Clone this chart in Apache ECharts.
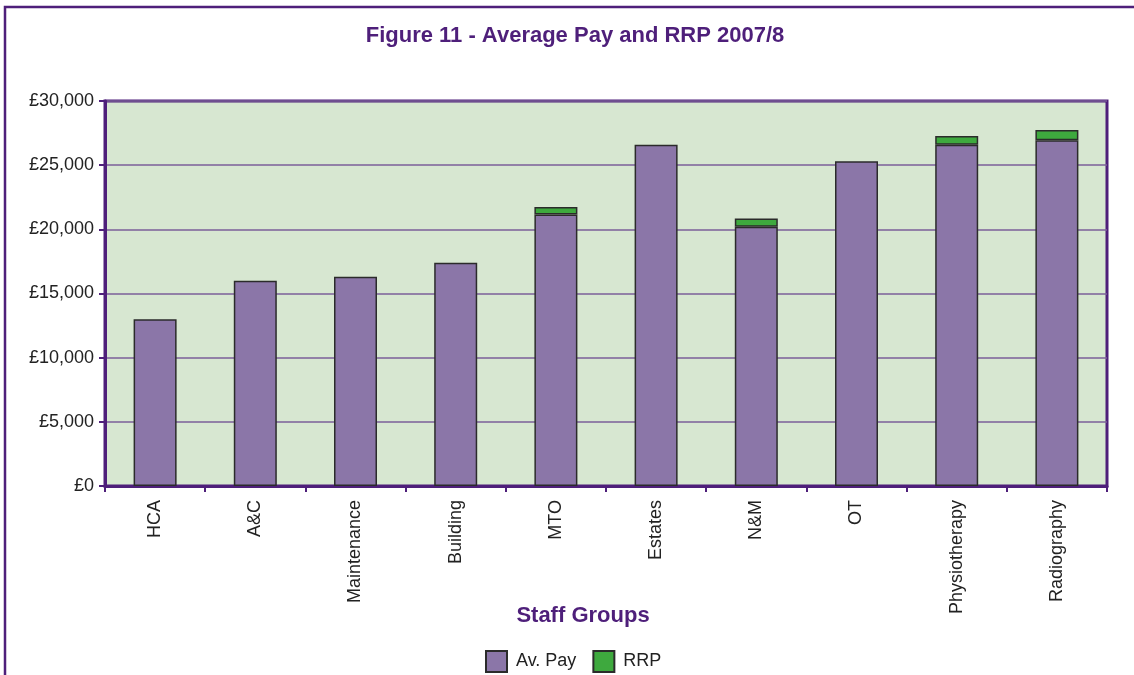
<!DOCTYPE html>
<html>
<head>
<meta charset="utf-8">
<script src="https://cdn.jsdelivr.net/npm/echarts@6/dist/echarts.min.js"></script>
<style>
  html, body { margin: 0; padding: 0; background: #ffffff; }
  #chart { width: 1134px; height: 675px; }
</style>
</head>
<body>
<div id="chart"></div>
<script>
// Staff groups and average pay with the recruitment & retention premium on top
const categories = ['HCA', 'A&C', 'Maintenance', 'Building', 'MTO', 'Estates', 'N&M', 'OT', 'Physiotherapy', 'Radiography'];
const avPay = [13000, 16000, 16300, 17400, 21150, 26600, 20200, 25300, 26600, 26950];
const rrp = [0, 0, 0, 0, 600, 0, 650, 0, 680, 800];
const yTicks = [0, 5000, 10000, 15000, 20000, 25000, 30000];

const purple = '#4e1f7a';
const font = '"Liberation Sans", Arial, sans-serif';

const chart = echarts.init(document.getElementById('chart'), null, { renderer: 'canvas' });

chart.setOption({
  animation: false,
  backgroundColor: '#ffffff',
  title: [
    {
      text: 'Figure 11 - Average Pay and RRP 2007/8',
      left: 570, top: 20, textAlign: 'center',
      textStyle: { color: purple, fontFamily: font, fontWeight: 'bold', fontSize: 22 }
    },
    {
      text: 'Staff Groups',
      left: 578, top: 600, textAlign: 'center',
      textStyle: { color: purple, fontFamily: font, fontWeight: 'bold', fontSize: 22 }
    }
  ],
  legend: {
    data: ['Av. Pay', 'RRP'],
    left: 480, top: 645,
    itemWidth: 21, itemHeight: 21, itemGap: 16,
    icon: 'rect',
    textStyle: { color: '#222', fontFamily: font, fontSize: 18, padding: [3, 0, 0, 4] }
  },
  graphic: [
    {
      type: 'rect', z: -10,
      shape: { x: 5, y: 7, width: 1200, height: 720 },
      style: { fill: 'none', stroke: purple, lineWidth: 2.5 }
    }
  ],
  grid: {
    left: 105, top: 101, right: 27, bottom: 189,
    show: true, backgroundColor: '#d7e7d1',
    borderColor: purple, borderWidth: 3
  },
  xAxis: {
    type: 'category',
    data: categories,
    boundaryGap: true,
    axisLine: { lineStyle: { color: purple, width: 3 } },
    axisTick: { show: true, alignWithLabel: false, length: 6, lineStyle: { color: purple, width: 2 } },
    axisLabel: { rotate: 90, margin: 14, color: '#222', fontFamily: font, fontSize: 18 }
  },
  yAxis: {
    type: 'value',
    min: yTicks[0], max: yTicks[yTicks.length - 1], interval: yTicks[1] - yTicks[0],
    axisLine: { show: true, lineStyle: { color: purple, width: 3 } },
    axisTick: { show: true, length: 6, lineStyle: { color: purple, width: 2 } },
    axisLabel: {
      margin: 11, color: '#222', fontFamily: font, fontSize: 18,
      formatter: v => '£' + v.toLocaleString('en-GB')
    },
    splitLine: { lineStyle: { color: '#7b5f98', width: 1.5 } }
  },
  series: [
    {
      name: 'Av. Pay', type: 'bar', stack: 'pay', data: avPay,
      barWidth: 43,
      itemStyle: { color: '#8b76a8', borderColor: '#2b2b2b', borderWidth: 1.5 }
    },
    {
      name: 'RRP', type: 'bar', stack: 'pay',
      data: rrp.map(v => v === 0 ? null : v),
      barWidth: 43,
      itemStyle: { color: '#3ea93e', borderColor: '#2b2b2b', borderWidth: 1.5 }
    }
  ]
});
</script>
</body>
</html>
